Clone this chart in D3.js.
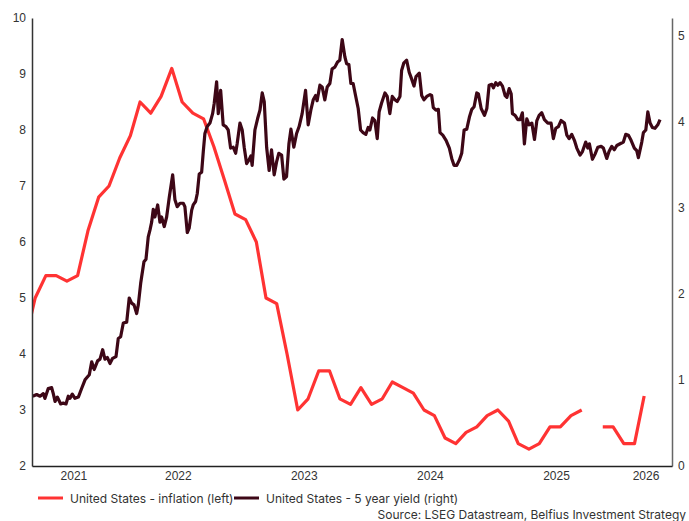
<!DOCTYPE html>
<html>
<head>
<meta charset="utf-8">
<script src="https://cdn.jsdelivr.net/npm/d3@7"></script>
<style>
  html, body { margin: 0; padding: 0; background: #fff; }
  svg { display: block; font-family: Inter, "Noto Sans", sans-serif; }
</style>
</head>
<body>
<svg id="chart" width="689" height="521"></svg>
<script>
// Axis ticks
const leftTicks = [2, 3, 4, 5, 6, 7, 8, 9, 10];
const rightTicks = [0, 1, 2, 3, 4, 5];
const yearLabels = [2021, 2022, 2023, 2024, 2025, 2026];

// US CPI inflation, % y/y, monthly from April 2021 (October 2025 not published)
const inflationStart = [2021, 4];
const inflation = [
  4.2, 5.0, 5.4, 5.4, 5.3, 5.4, 6.2, 6.8, 7.0,
  7.5, 7.9, 8.5, 8.3, 8.6, 9.1, 8.5, 8.3, 8.2, 7.7, 7.1, 6.5,
  6.4, 6.0, 5.0, 4.9, 4.0, 3.0, 3.2, 3.7, 3.7, 3.2, 3.1, 3.4,
  3.1, 3.2, 3.5, 3.4, 3.3, 3.0, 2.9, 2.5, 2.4, 2.6, 2.7, 2.9,
  3.0, 2.8, 2.4, 2.3, 2.4, 2.7, 2.7, 2.9, 3.0, null, 2.7, 2.7,
  2.4, 2.4, 3.25
];

// US 5 year government bond yield, % ([time as decimal year, yield])
const yield5y = [
  [2021.348, 0.81], [2021.379, 0.83], [2021.406, 0.81], [2021.432, 0.84], [2021.445, 0.785],
  [2021.471, 0.90], [2021.498, 0.91], [2021.511, 0.84], [2021.525, 0.75], [2021.543, 0.80],
  [2021.570, 0.72], [2021.590, 0.73], [2021.612, 0.72], [2021.630, 0.81], [2021.644, 0.785],
  [2021.662, 0.835], [2021.683, 0.785], [2021.710, 0.80], [2021.736, 0.90], [2021.763, 1.00],
  [2021.797, 1.06], [2021.816, 1.21], [2021.836, 1.12], [2021.863, 1.22], [2021.882, 1.24],
  [2021.903, 1.35], [2021.921, 1.24], [2021.940, 1.26], [2021.961, 1.19], [2021.982, 1.25],
  [2022.009, 1.27], [2022.027, 1.48], [2022.046, 1.50], [2022.067, 1.66], [2022.094, 1.67],
  [2022.114, 1.95], [2022.133, 1.89], [2022.152, 1.87], [2022.173, 1.77], [2022.186, 1.87],
  [2022.205, 2.12], [2022.213, 2.20], [2022.231, 2.37], [2022.247, 2.40], [2022.265, 2.66],
  [2022.279, 2.74], [2022.292, 2.83], [2022.305, 2.98], [2022.318, 2.89], [2022.340, 3.03],
  [2022.358, 2.83], [2022.371, 2.89], [2022.392, 2.78], [2022.411, 2.89], [2022.432, 3.12],
  [2022.459, 3.38], [2022.477, 3.09], [2022.495, 3.01], [2022.517, 3.05], [2022.543, 3.05],
  [2022.556, 3.01], [2022.575, 2.71], [2022.590, 2.76], [2022.610, 2.97], [2022.622, 3.03],
  [2022.641, 3.07], [2022.654, 3.16], [2022.670, 3.39], [2022.689, 3.41], [2022.702, 3.65],
  [2022.715, 3.86], [2022.733, 3.94], [2022.755, 3.98], [2022.776, 4.09], [2022.789, 4.21],
  [2022.808, 4.46], [2022.821, 4.09], [2022.840, 4.36], [2022.860, 3.96], [2022.882, 3.94],
  [2022.900, 3.90], [2022.919, 3.69], [2022.940, 3.70], [2022.959, 3.63], [2022.971, 3.74],
  [2022.993, 3.98], [2023.011, 3.90], [2023.027, 3.70], [2023.046, 3.51], [2023.064, 3.55],
  [2023.080, 3.60], [2023.090, 3.49], [2023.112, 3.90], [2023.133, 4.03], [2023.152, 4.13],
  [2023.170, 4.33], [2023.186, 4.23], [2023.205, 3.70], [2023.225, 3.43], [2023.244, 3.67],
  [2023.265, 3.38], [2023.284, 3.53], [2023.302, 3.63], [2023.324, 3.61], [2023.342, 3.33],
  [2023.363, 3.36], [2023.382, 3.74], [2023.398, 3.91], [2023.421, 3.70], [2023.443, 3.86],
  [2023.463, 3.94], [2023.487, 4.09], [2023.514, 4.36], [2023.535, 3.96], [2023.556, 4.13],
  [2023.575, 4.25], [2023.594, 4.30], [2023.606, 4.24], [2023.628, 4.42], [2023.646, 4.40],
  [2023.667, 4.25], [2023.686, 4.40], [2023.707, 4.44], [2023.725, 4.61], [2023.747, 4.63],
  [2023.768, 4.69], [2023.786, 4.71], [2023.805, 4.95], [2023.826, 4.75], [2023.840, 4.67],
  [2023.858, 4.66], [2023.874, 4.44], [2023.892, 4.44], [2023.911, 4.30], [2023.932, 4.15],
  [2023.951, 3.90], [2023.971, 3.87], [2023.993, 3.85], [2024.011, 3.93], [2024.025, 3.90],
  [2024.046, 4.04], [2024.064, 4.01], [2024.083, 3.80], [2024.098, 4.11], [2024.117, 4.21],
  [2024.144, 4.33], [2024.162, 4.29], [2024.183, 4.09], [2024.202, 4.29], [2024.223, 4.25],
  [2024.241, 4.23], [2024.263, 4.29], [2024.276, 4.59], [2024.294, 4.68], [2024.316, 4.71],
  [2024.336, 4.57], [2024.356, 4.49], [2024.374, 4.41], [2024.390, 4.52], [2024.416, 4.56],
  [2024.435, 4.30], [2024.453, 4.25], [2024.475, 4.29], [2024.501, 4.31], [2024.514, 4.30],
  [2024.527, 4.16], [2024.548, 4.13], [2024.567, 4.14], [2024.580, 3.87], [2024.602, 3.84],
  [2024.628, 3.78], [2024.654, 3.69], [2024.673, 3.57], [2024.691, 3.49], [2024.713, 3.49],
  [2024.733, 3.55], [2024.752, 3.63], [2024.771, 3.90], [2024.792, 3.91], [2024.813, 4.05],
  [2024.832, 4.14], [2024.850, 4.17], [2024.871, 4.33], [2024.884, 4.32], [2024.906, 4.15],
  [2024.932, 4.07], [2024.951, 4.15], [2024.969, 4.42], [2024.990, 4.43], [2025.003, 4.39],
  [2025.022, 4.45], [2025.038, 4.42], [2025.056, 4.45], [2025.075, 4.41], [2025.096, 4.30],
  [2025.110, 4.28], [2025.128, 4.38], [2025.144, 4.32], [2025.154, 4.09], [2025.175, 4.07],
  [2025.197, 4.02], [2025.215, 4.02], [2025.233, 4.10], [2025.249, 3.74], [2025.268, 4.03],
  [2025.286, 3.96], [2025.308, 3.98], [2025.329, 3.79], [2025.348, 4.01], [2025.366, 4.07],
  [2025.387, 4.10], [2025.408, 4.02], [2025.435, 3.98], [2025.461, 3.98], [2025.479, 3.80],
  [2025.498, 3.92], [2025.519, 3.94], [2025.540, 4.01], [2025.567, 3.98], [2025.586, 3.84],
  [2025.604, 3.80], [2025.625, 3.85], [2025.646, 3.78], [2025.665, 3.69], [2025.691, 3.61],
  [2025.710, 3.65], [2025.736, 3.76], [2025.752, 3.69], [2025.765, 3.74], [2025.789, 3.56],
  [2025.810, 3.62], [2025.832, 3.70], [2025.858, 3.71], [2025.876, 3.69], [2025.903, 3.57],
  [2025.921, 3.65], [2025.943, 3.71], [2025.963, 3.67], [2025.983, 3.72], [2026.009, 3.74],
  [2026.035, 3.76], [2026.054, 3.85], [2026.075, 3.84], [2026.096, 3.78], [2026.122, 3.69],
  [2026.141, 3.66], [2026.154, 3.58], [2026.181, 3.76], [2026.194, 3.87], [2026.213, 3.90],
  [2026.229, 4.11], [2026.247, 3.98], [2026.265, 3.93], [2026.286, 3.92], [2026.308, 3.96],
  [2026.326, 4.02]
];

const seriesNames = ["United States - inflation (left)", "United States - 5 year yield (right)"];
const seriesColors = ["#ff3333", "#3d0716"];
const sourceNote = "Source: LSEG Datastream, Belfius Investment Strategy";

// ---- helpers ----
function fromDecimalYear(t) {
  const y = Math.floor(t);
  const a = Date.UTC(y, 0, 1), b = Date.UTC(y + 1, 0, 1);
  return new Date(a + (t - y) * (b - a));
}

// ---- layout ----
const plot = { left: 32, right: 672, top: 18, bottom: 466 };
const svg = d3.select("#chart");

const x = d3.scaleUtc()
  .domain([fromDecimalYear(2021.342), fromDecimalYear(2026.421)])
  .range([plot.left, plot.right]);
const yL = d3.scaleLinear().domain([2, 10]).range([plot.bottom, plot.top]);
const yR = d3.scaleLinear().domain([0, 5.2]).range([plot.bottom, plot.top]);

svg.append("defs").append("clipPath").attr("id", "plot-clip")
  .append("rect")
  .attr("x", plot.left).attr("y", plot.top - 5)
  .attr("width", plot.right - plot.left).attr("height", plot.bottom - plot.top + 5);

// ---- series ----
const inflationData = inflation.map((v, i) => ({
  date: new Date(Date.UTC(inflationStart[0], inflationStart[1] - 1 + i, 15)),
  v
}));
const yieldData = yield5y.map(([t, v]) => ({ date: fromDecimalYear(t), v }));

const g = svg.append("g").attr("clip-path", "url(#plot-clip)");

g.append("path")
  .datum(inflationData)
  .attr("fill", "none")
  .attr("stroke", seriesColors[0])
  .attr("stroke-width", 3.2)
  .attr("stroke-linejoin", "round")
  .attr("d", d3.line().defined(d => d.v != null).x(d => x(d.date)).y(d => yL(d.v)));

g.append("path")
  .datum(yieldData)
  .attr("fill", "none")
  .attr("stroke", seriesColors[1])
  .attr("stroke-width", 3.2)
  .attr("stroke-linejoin", "round")
  .attr("d", d3.line().x(d => x(d.date)).y(d => yR(d.v)));

// ---- axes ----
const axisFont = g => g.selectAll("text").attr("font-size", 12).attr("fill", "#333");

svg.append("g")
  .attr("transform", `translate(${plot.left},0)`)
  .call(d3.axisLeft(yL).tickValues(leftTicks).tickFormat(d3.format("d"))
    .tickSize(0).tickPadding(6).tickSizeOuter(0))
  .call(axisFont)
  .call(g => g.select(".domain").attr("stroke", "#333").attr("stroke-width", 1.5));

svg.append("g")
  .attr("transform", `translate(${plot.right},0)`)
  .call(d3.axisRight(yR).tickValues(rightTicks).tickFormat(d3.format("d"))
    .tickSize(0).tickPadding(6).tickSizeOuter(0))
  .call(axisFont)
  .call(g => g.select(".domain").attr("stroke", "#666").attr("stroke-width", 1.5));

// year labels sit in the middle of each year's span within the plotted range
const [d0, d1] = x.domain();
const yearCenters = yearLabels.map(yr => {
  const a = Math.max(+d0, Date.UTC(yr, 0, 1));
  const b = Math.min(+d1, Date.UTC(yr + 1, 0, 1));
  return new Date((a + b) / 2);
});
svg.append("g")
  .attr("transform", `translate(0,${plot.bottom})`)
  .call(d3.axisBottom(x).tickValues(yearCenters)
    .tickFormat(d => yearLabels[yearCenters.findIndex(c => +c === +d)])
    .tickSize(0).tickPadding(5).tickSizeOuter(0))
  .call(axisFont)
  .call(g => g.select(".domain").attr("stroke", "#222").attr("stroke-width", 1.5));

// ---- legend ----
const legendItems = [
  { x: 38, name: seriesNames[0], color: seriesColors[0] },
  { x: 234, name: seriesNames[1], color: seriesColors[1] }
];
const legend = svg.append("g").attr("transform", "translate(0,498)");
legendItems.forEach(item => {
  legend.append("line")
    .attr("x1", item.x).attr("x2", item.x + 25)
    .attr("y1", 0).attr("y2", 0)
    .attr("stroke", item.color).attr("stroke-width", 3);
  legend.append("text")
    .attr("x", item.x + 32).attr("y", 4.5)
    .attr("font-size", 12).attr("fill", "#333")
    .text(item.name);
});

// source line, right-aligned inside the canvas
svg.append("text")
  .attr("x", 686).attr("y", 518.5)
  .attr("text-anchor", "end")
  .attr("font-size", 12).attr("fill", "#333")
  .text(sourceNote);
</script>
</body>
</html>
